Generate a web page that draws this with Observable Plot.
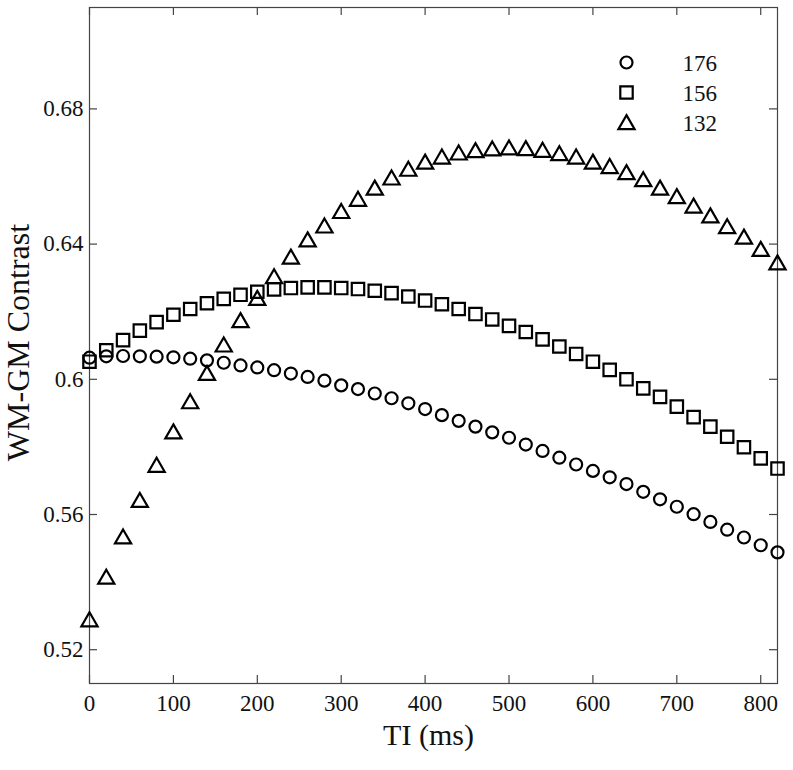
<!DOCTYPE html>
<html>
<head>
<meta charset="utf-8">
<script src="https://cdn.jsdelivr.net/npm/d3@7"></script>
<script src="https://cdn.jsdelivr.net/npm/@observablehq/plot@0.6"></script>
<style>
  html, body { margin: 0; padding: 0; background: #fff; }
  #chart svg { display: block; }
</style>
</head>
<body>
<div id="chart"></div>
<script>
// ---- Data ----
const ti = [0, 20, 40, 60, 80, 100, 120, 140, 160, 180, 200, 220, 240, 260, 280, 300, 320, 340, 360, 380, 400,
            420, 440, 460, 480, 500, 520, 540, 560, 580, 600, 620, 640, 660, 680, 700, 720, 740, 760, 780, 800, 820];

const contrast176 = [0.6064, 0.6068, 0.6069, 0.6068, 0.6067, 0.6065, 0.6061, 0.6056, 0.6049, 0.6041, 0.6035,
  0.6027, 0.6017, 0.6007, 0.5996, 0.5982, 0.5971, 0.5958, 0.5944, 0.5929, 0.5912, 0.5894, 0.5877, 0.5860,
  0.5843, 0.5827, 0.5807, 0.5788, 0.5768, 0.5748, 0.5729, 0.5710, 0.5690, 0.5667, 0.5645, 0.5623, 0.5601,
  0.5578, 0.5555, 0.5532, 0.5509, 0.5488];

const contrast156 = [0.6052, 0.6086, 0.6116, 0.6144, 0.6169, 0.6191, 0.6208, 0.6225, 0.6238, 0.6250, 0.6259,
  0.6266, 0.6270, 0.6272, 0.6272, 0.6270, 0.6267, 0.6262, 0.6255, 0.6245, 0.6233, 0.6222, 0.6208, 0.6193,
  0.6177, 0.6158, 0.6140, 0.6118, 0.6097, 0.6075, 0.6052, 0.6028, 0.6000, 0.5973, 0.5948, 0.5919, 0.5888,
  0.5860, 0.5830, 0.5799, 0.5766, 0.5736];

const contrast132 = [0.5289, 0.5415, 0.5534, 0.5642, 0.5746, 0.5845, 0.5934, 0.6018, 0.6102, 0.6174, 0.6240,
  0.6304, 0.6362, 0.6413, 0.6454, 0.6497, 0.6533, 0.6566, 0.6596, 0.6622, 0.6643, 0.6658, 0.6670, 0.6677,
  0.6682, 0.6685, 0.6683, 0.6678, 0.6668, 0.6658, 0.6643, 0.6630, 0.6612, 0.6591, 0.6566, 0.6541, 0.6513,
  0.6484, 0.6452, 0.6421, 0.6385, 0.6345];

const legendLabels = ["176", "156", "132"];
const xTicks = [0, 100, 200, 300, 400, 500, 600, 700, 800];
const yTicks = [0.52, 0.56, 0.6, 0.64, 0.68];
const xLabel = "TI (ms)";
const yLabel = "WM-GM Contrast";

// ---- Layout / styles ----
const W = 793, H = 770;
const mL = 89, mR = 16, mT = 7, mB = 87;
const innerW = W - mL - mR, innerH = H - mT - mB;
const tickLen = 8;
const axisColor = "#444";
const font = "'Liberation Serif', 'Times New Roman', serif";

const styles = [
  {symbol: "circle", r: 6, dy: 0},
  {symbol: "square", r: 7, dy: 0},
  {symbol: "triangle", r: 6, dy: 2}
];
const seriesValues = [contrast176, contrast156, contrast132];

const series = legendLabels.map((name, k) => ({
  name,
  ...styles[k],
  rows: ti.map((t, i) => ({ti: t, value: seriesValues[k][i]}))
}));

const marks = [];

// frame and inward ticks on all four sides
marks.push(Plot.frame({stroke: axisColor, strokeWidth: 1.2}));
marks.push(Plot.tickX(xTicks, {x: d => d, insetTop: innerH - tickLen, stroke: axisColor, strokeWidth: 1.2}));
marks.push(Plot.tickX(xTicks, {x: d => d, insetBottom: innerH - tickLen, stroke: axisColor, strokeWidth: 1.2}));
marks.push(Plot.tickY(yTicks, {y: d => d, insetRight: innerW - tickLen, stroke: axisColor, strokeWidth: 1.2}));
marks.push(Plot.tickY(yTicks, {y: d => d, insetLeft: innerW - tickLen, stroke: axisColor, strokeWidth: 1.2}));

// tick labels
marks.push(Plot.axisX({ticks: xTicks, tickSize: 0, tickPadding: 11, label: null, fontSize: 23, fill: "#111"}));
marks.push(Plot.axisY({ticks: yTicks, tickSize: 0, tickPadding: 6, label: null, fontSize: 23, fill: "#111",
  tickFormat: d => String(d)}));

// data series
for (const s of series) {
  marks.push(Plot.dot(s.rows, {
    x: "ti", y: "value", symbol: s.symbol, r: s.r, dy: s.dy,
    fill: "none", stroke: "black", strokeWidth: 2.2
  }));
}

// legend (top-right, inside the frame)
series.forEach((s, k) => {
  marks.push(Plot.dot([s], {
    frameAnchor: "top-right", dx: -151, dy: 55 + k * 30 + s.dy,
    symbol: s.symbol, r: s.r, fill: "none", stroke: "black", strokeWidth: 2.2
  }));
  marks.push(Plot.text([s], {
    frameAnchor: "top-right", dx: -95, dy: 56 + k * 30, text: d => d.name,
    textAnchor: "start", lineAnchor: "middle", fontSize: 23, fill: "#111"
  }));
});

// axis titles
marks.push(Plot.text([xLabel], {frameAnchor: "bottom", dx: -5, dy: 52, text: d => d,
  textAnchor: "middle", lineAnchor: "middle", fontSize: 30, fill: "#111"}));
marks.push(Plot.text([yLabel], {frameAnchor: "left", dx: -71, dy: -3, rotate: -90, text: d => d,
  textAnchor: "middle", lineAnchor: "middle", fontSize: 32, fill: "#111"}));

const chart = Plot.plot({
  width: W, height: H,
  marginLeft: mL, marginRight: mR, marginTop: mT, marginBottom: mB,
  style: {fontFamily: font, background: "#fff", color: "#111", overflow: "visible"},
  x: {domain: [0, 820]},
  y: {domain: [0.51, 0.71]},
  marks
});
document.getElementById("chart").appendChild(chart);
</script>
</body>
</html>
